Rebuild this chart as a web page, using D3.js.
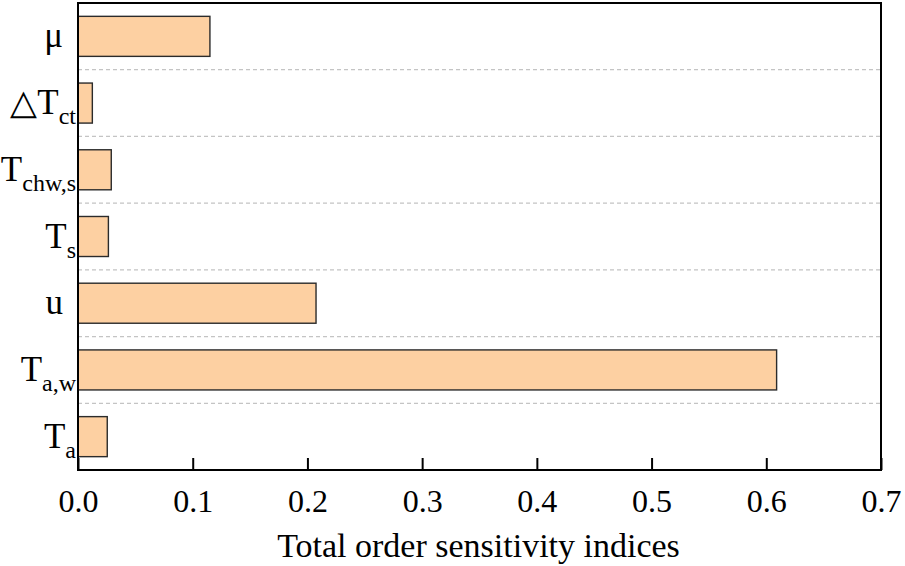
<!DOCTYPE html>
<html>
<head>
<meta charset="utf-8">
<script src="https://cdn.jsdelivr.net/npm/d3@7"></script>
<style>
  body { margin: 0; background: #fff; }
  svg text { font-family: "Liberation Serif", "Times New Roman", serif; fill: #000; }
</style>
</head>
<body>
<svg id="chart" width="905" height="566"></svg>
<script>
// categories top to bottom, split into main symbol + subscript
const labelMain = ["μ", "△T", "T", "T", "u", "T", "T"]
const labelSub = ["", "ct", "chw,s", "s", "", "a,w", "a"]
const values = [0.115, 0.0125, 0.029, 0.0265, 0.2075, 0.609, 0.0255]
const xTicks = [0.0, 0.1, 0.2, 0.3, 0.4, 0.5, 0.6, 0.7]
const xTitle = "Total order sensitivity indices"

const layout = {"width": 905, "height": 566,
                "left": 78, "right": 881, "top": 3, "bottom": 470}

const svg = d3.select("#chart")
const ids = labelMain.map((d, i) => i)

const xScale = d3.scaleLinear()
                 .domain([0, 0.7])
                 .range([layout.left, layout.right])

const yScale = d3.scaleBand()
                 .domain(ids)
                 .range([layout.top, layout.bottom])
                 .paddingInner(0.4)
                 .paddingOuter(0.2)

// dashed separators between categories
const step = yScale.step()
svg.append("g").selectAll("line")
   .data(ids.slice(1))
   .join("line")
   .attr("x1", layout.left)
   .attr("x2", layout.right)
   .attr("y1", d => yScale(d) - step * 0.2)
   .attr("y2", d => yScale(d) - step * 0.2)
   .attr("stroke", "#c4c4c4")
   .attr("stroke-width", 1.3)
   .attr("stroke-dasharray", "4,3")

svg.append("g").selectAll("rect")
   .data(values)
   .join("rect")
   .attr("x", xScale(0))
   .attr("y", (d, i) => yScale(i))
   .attr("width", d => xScale(d) - xScale(0))
   .attr("height", yScale.bandwidth())
   .attr("fill", "#fdd0a2")
   .attr("stroke", "#2b2b2b")
   .attr("stroke-width", 1.4)

// bottom axis, ticks pointing inward
const xAxis = svg.append("g")
   .attr("transform", `translate(0, ${layout.bottom})`)
   .call(d3.axisBottom(xScale).tickValues(xTicks).tickFormat(d3.format(".1f"))
            .tickSizeInner(-12).tickSizeOuter(0).tickPadding(19))
xAxis.select(".domain").remove()
xAxis.selectAll(".tick line").attr("stroke", "#000").attr("stroke-width", 2)
xAxis.selectAll(".tick text")
     .style("font-size", "32px")
     .style("font-family", "'Liberation Serif', serif")
     .attr("dy", "0.71em")

// frame
svg.append("rect")
   .attr("x", layout.left)
   .attr("y", layout.top)
   .attr("width", layout.right - layout.left)
   .attr("height", layout.bottom - layout.top)
   .attr("fill", "none")
   .attr("stroke", "#000")
   .attr("stroke-width", 2)

// y labels with subscripts
const ylab = svg.append("g").selectAll("text")
   .data(ids)
   .join("text")
   .attr("text-anchor", "end")
   .attr("x", d => labelSub[d] ? 76 : 63)
   .attr("y", d => yScale(d) + yScale.bandwidth() / 2 + 11)
   .style("font-size", "35px")
ylab.append("tspan").text(d => labelMain[d])
ylab.append("tspan")
    .attr("dy", 10)
    .style("font-size", "24px")
    .text(d => labelSub[d])

svg.append("text")
   .attr("text-anchor", "middle")
   .attr("x", (layout.left + layout.right) / 2 - 1)
   .attr("y", 557)
   .style("font-size", "34px")
   .text(xTitle)
</script>
</body>
</html>
